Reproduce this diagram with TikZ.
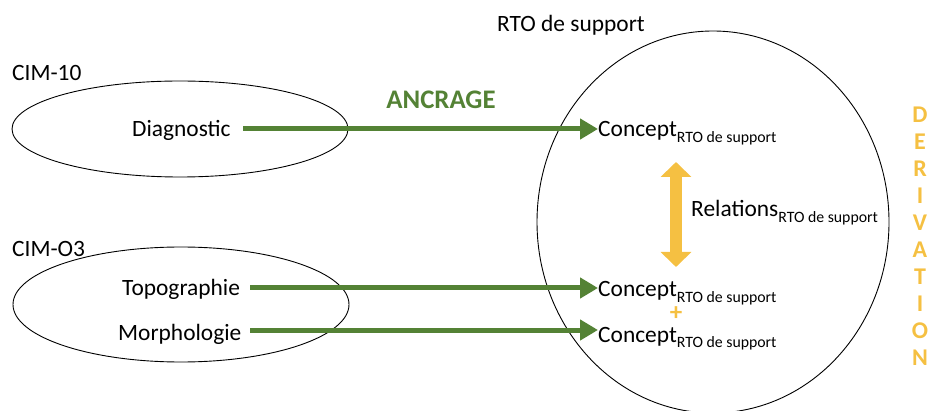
\documentclass[tikz,border=0pt]{standalone}
\usepackage{fontspec}
\setmainfont{Carlito}
\usetikzlibrary{arrows.meta}
\definecolor{ogreen}{RGB}{84,130,53}
\definecolor{ogold}{RGB}{245,192,66}
\newcommand{\rtosub}{{\fontsize{15.8}{16}\selectfont\raisebox{-5.5pt}{RTO de support}}}
\tikzset{
  txt/.style={inner sep=0pt, font=\fontsize{23.4}{28}\selectfont, anchor=base west},
  grarrow/.style={draw=ogreen, line width=5pt, -{Triangle[length=18pt,width=20pt]}},
  ylarrow/.style={draw=ogold, line width=12pt, {Triangle[length=15pt,width=30pt]}-{Triangle[length=15pt,width=30pt]}},
  outline/.style={draw=black, line width=0.9pt}
}
\begin{document}
\begin{tikzpicture}[x=1pt,y=-1pt]
\useasboundingbox (0,0) rectangle (928,411);
% ellipses
\draw[outline] (180,129) ellipse [x radius=168pt, y radius=48pt];
\draw[outline] (181,304.5) ellipse [x radius=168pt, y radius=57.5pt];
\draw[outline] (713,222) ellipse [x radius=176pt, y radius=191pt];
% labels
\node[txt] (cim10) at (12,81) {CIM-10};
\node[txt] (cimo3) at (12,257) {CIM-O3};
\node[txt] (rto) at (497,32) {RTO de support};
\node[txt] (diag) at (132,137) {Diagnostic};
\node[txt] (topo) at (122,295) {Topographie};
\node[txt] (morph) at (118,340) {Morphologie};
\node[txt] (c1) at (598,137) {Concept\rtosub};
\node[txt] (rel) at (691,217) {Relations\rtosub};
\node[txt] (c2) at (598,297) {Concept\rtosub};
\node[txt] (c3) at (598,342) {Concept\rtosub};
\node[inner sep=0pt, font=\fontsize{26.8}{28}\selectfont\bfseries, text=ogreen] (ancrage) at (441,99.5) {ANCRAGE};
\node[inner sep=0pt, font=\fontsize{25}{26}\selectfont\bfseries, text=ogold] (plus) at (676,313.5) {+};
\node[inner sep=0pt, align=center, font=\fontsize{24}{27}\selectfont\bfseries, text=ogold] (deriv) at (920,236.5) {D\\E\\R\\I\\V\\A\\T\\I\\O\\N};
% connectors
\coordinate (d0) at (243,129);
\coordinate (t0) at (250,288);
\coordinate (m0) at (250,330);
\draw[grarrow] (d0) -- (d0 -| c1.west);
\draw[grarrow] (t0) -- (t0 -| c2.west);
\draw[grarrow] (m0) -- (m0 -| c3.west);
\coordinate (ya) at (676,162);
\coordinate (yb) at (676,267);
\draw[ylarrow] (ya) -- (yb);
\end{tikzpicture}
\end{document}
